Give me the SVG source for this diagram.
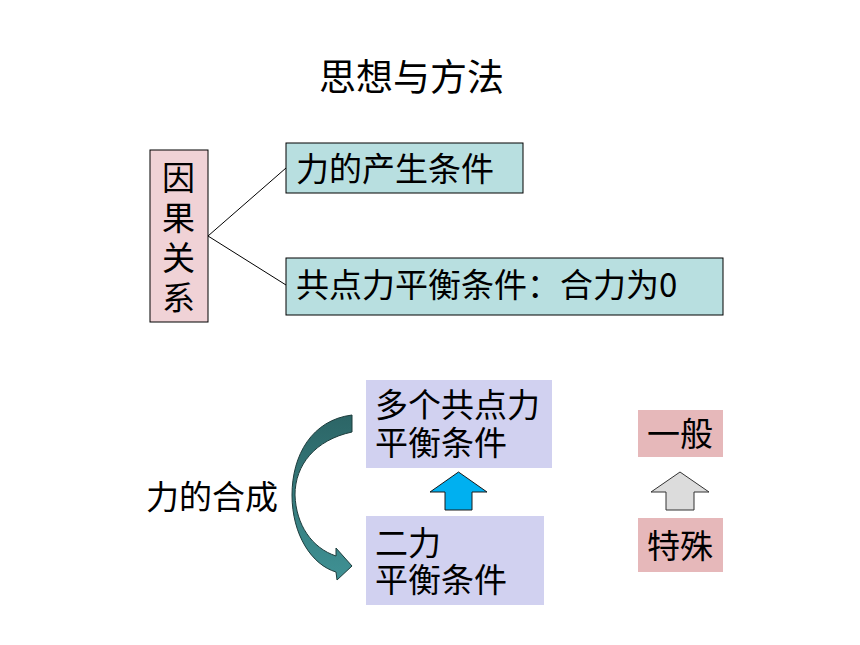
<svg xmlns="http://www.w3.org/2000/svg" width="860" height="645" viewBox="0 0 860 645">
<defs>
<style>
.t{font-family:"Noto Sans CJK SC","Liberation Sans",sans-serif;font-size:33px;fill:#000}
.title{font-size:37px}
.pk{fill:#f0d2d6;stroke:#000;stroke-width:1}
.cy{fill:#b8dfe0;stroke:#000;stroke-width:1}
.lv{fill:#d1d1f0;stroke:none}
.rs{fill:#e6b8ba;stroke:none}
.ln{stroke:#000;stroke-width:1;fill:none}
</style>
<linearGradient id="tg" x1="0" y1="0" x2="0" y2="1">
<stop offset="0" stop-color="#2c6566"/>
<stop offset="1" stop-color="#3f9194"/>
</linearGradient>
</defs>
<rect width="860" height="645" fill="#fff"/>
<text class="t title" x="319" y="91">思想与方法</text>
<g id="connectors">
<line class="ln" x1="208" y1="236" x2="286" y2="168"/>
<line class="ln" x1="208" y1="236" x2="286" y2="285"/>
<path id="curve-arrow" d="M352,415 C312,420 292,455 292,495 C292,535 312,565 336,572 L337,580 L352,566 L336,548 L336,556 C312,548 296,525 295,495 C295,465 315,440 352,432 Z" fill="url(#tg)" stroke="#1d3c3c" stroke-width="1"/>
<path id="blue-arrow" d="M445,510 L445,492 L430,492 L458.5,472 L487,492 L472,492 L472,510 Z" fill="#00b0f0" stroke="#1a1a1a" stroke-width="1"/>
<path id="gray-arrow" d="M666,510 L666,492 L651,492 L680,472 L709,492 L694,492 L694,510 Z" fill="#dcdcdc" stroke="#333" stroke-width="1"/>
</g>
<g id="cause">
<rect class="pk" x="150" y="150" width="58" height="172"/>
<text class="t" x="162" y="190">因</text>
<text class="t" x="162" y="230">果</text>
<text class="t" x="162" y="270">关</text>
<text class="t" x="162" y="310">系</text>
</g>
<g id="n1">
<rect class="cy" x="286" y="143" width="237" height="50"/>
<text class="t" x="296" y="181">力的产生条件</text>
</g>
<g id="n2">
<rect class="cy" x="286" y="258" width="437" height="57"/>
<text class="t" x="296" y="297">共点力平衡条件：合力为0</text>
</g>
<g id="multi">
<rect class="lv" x="366" y="380" width="186" height="88"/>
<text class="t" x="375" y="417">多个共点力</text>
<text class="t" x="375" y="455">平衡条件</text>
</g>
<g id="two">
<rect class="lv" x="366" y="516" width="178" height="89"/>
<text class="t" x="375" y="555">二力</text>
<text class="t" x="375" y="592">平衡条件</text>
</g>
<g id="compose">
<text class="t" x="146" y="509">力的合成</text>
</g>
<g id="general">
<rect class="rs" x="638" y="410" width="85" height="47"/>
<text class="t" x="647" y="446">一般</text>
</g>
<g id="special">
<rect class="rs" x="638" y="518" width="85" height="54"/>
<text class="t" x="647" y="558">特殊</text>
</g>
</svg>
